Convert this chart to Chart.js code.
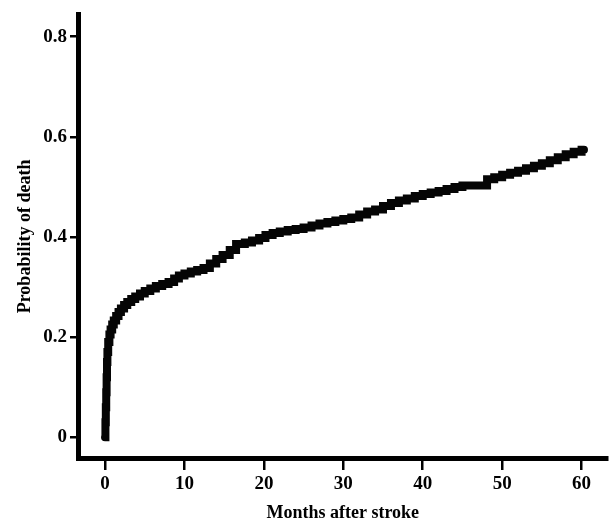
<!DOCTYPE html>
<html>
<head>
<meta charset="utf-8">
<script src="https://cdn.jsdelivr.net/npm/chart.js@4"></script>
<style>
  html, body { margin: 0; padding: 0; background: #fff; }
  #wrap { width: 609px; height: 524px; }
</style>
</head>
<body>
<div id="wrap"><canvas id="chart" width="609" height="524"></canvas></div>
<script>
// ---- data ----
const months = [
  0, 0.05, 0.1, 0.15, 0.2, 0.25, 0.3, 0.4, 0.55, 0.7, 0.9, 1.1, 1.4, 1.7, 2.0, 2.4, 2.8, 3.3, 3.8, 4.4,
  5.0, 5.7, 6.4, 7.2, 8.0, 8.7, 9.3, 10.0, 10.8, 11.6, 12.4, 13.2, 14.0, 14.8, 15.7, 16.5, 17.6, 18.5, 19.4, 20.2,
  21.1, 22.0, 23.0, 24.0, 25.0, 26.0, 27.0, 28.0, 29.0, 30.0, 31.0, 32.0, 33.0, 34.0, 35.0, 36.0, 37.0, 38.0, 39.0, 40.0,
  41.0, 42.0, 43.0, 44.0, 45.0, 48.1, 49.0, 50.0, 51.0, 52.0, 53.0, 54.0, 55.0, 56.0, 57.0, 58.0, 59.0, 60.0, 60.3
];
const deathProb = [
  0, 0.03, 0.06, 0.09, 0.12, 0.15, 0.17, 0.19, 0.205, 0.215, 0.225, 0.233, 0.242, 0.25, 0.257, 0.264, 0.27, 0.276, 0.281, 0.287,
  0.292, 0.297, 0.302, 0.306, 0.31, 0.317, 0.323, 0.327, 0.331, 0.334, 0.338, 0.347, 0.356, 0.364, 0.374, 0.386, 0.389, 0.393, 0.398, 0.404,
  0.408, 0.411, 0.414, 0.416, 0.419, 0.423, 0.427, 0.43, 0.433, 0.436, 0.439, 0.445, 0.451, 0.455, 0.462, 0.468, 0.473, 0.477, 0.482, 0.486,
  0.489, 0.492, 0.496, 0.5, 0.503, 0.515, 0.519, 0.524, 0.528, 0.532, 0.537, 0.542, 0.547, 0.553, 0.559, 0.565, 0.57, 0.574, 0.574
];
const xTicks = [0, 10, 20, 30, 40, 50, 60];
const yTicks = [0, 0.2, 0.4, 0.6, 0.8];

const serif = "'Liberation Serif', 'Times New Roman', serif";

// ---- chart ----
const points = months.map((m, i) => ({ x: m, y: deathProb[i] }));

new Chart(document.getElementById("chart"), {
  type: "line",
  data: {
    datasets: [{
      data: points,
      borderColor: "#050505",
      borderWidth: 8,
      stepped: "before", // horizontal first, then the jump (Kaplan-Meier style)
      pointRadius: 0,
      fill: false,
      borderCapStyle: "round",
      borderJoinStyle: "miter"
    }]
  },
  options: {
    responsive: false,
    animation: false,
    layout: { padding: { top: 10, right: 2, left: 0, bottom: 0 } },
    plugins: { legend: { display: false }, tooltip: { enabled: false } },
    scales: {
      x: {
        type: "linear",
        min: -3.34,
        max: 63.2,
        afterBuildTicks: s => { s.ticks = xTicks.map(v => ({ value: v })); },
        afterFit: s => { s.height = 65.5; },
        grid: { drawOnChartArea: false, drawTicks: true, tickLength: 11.5, lineWidth: 2.5, color: "#000" },
        border: { display: true, width: 5, color: "#000" },
        ticks: {
          color: "#000",
          padding: 3,
          maxRotation: 0,
          font: { family: serif, size: 19, weight: "bold" },
          callback: v => String(v)
        },
        title: {
          display: true,
          text: "Months after stroke",
          color: "#000",
          padding: { top: 0, bottom: 0 },
          font: { family: serif, size: 18, weight: "bold" }
        }
      },
      y: {
        min: -0.0425,
        max: 0.8445,
        afterBuildTicks: s => { s.ticks = yTicks.map(v => ({ value: v })); },
        afterFit: s => { s.width = 78.5; },
        grid: { drawOnChartArea: false, drawTicks: true, tickLength: 8.5, lineWidth: 2.5, color: "#000" },
        border: { display: true, width: 5, color: "#000" },
        ticks: {
          color: "#000",
          padding: 3,
          font: { family: serif, size: 19, weight: "bold" },
          callback: v => String(v)
        },
        title: {
          display: true,
          text: "Probability of death",
          color: "#000",
          padding: { top: 15, bottom: 0 },
          font: { family: serif, size: 18, weight: "bold" }
        }
      }
    }
  }
});
</script>
</body>
</html>
